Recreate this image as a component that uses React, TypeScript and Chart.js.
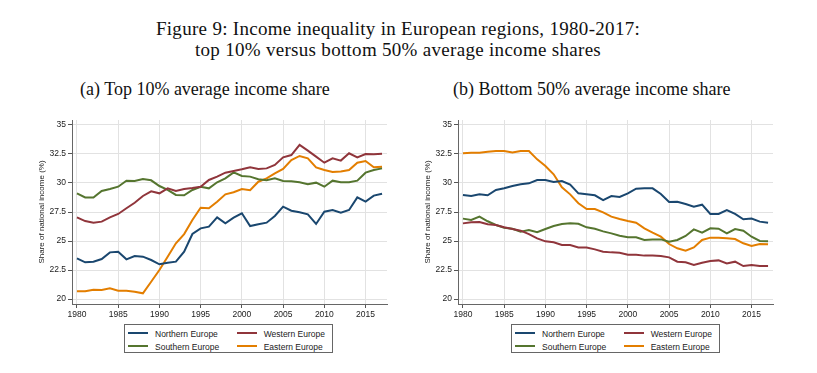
import React, { useEffect, useRef } from "react";
import { Chart, registerables } from "chart.js";

Chart.register(...registerables);

const years = [
  1980, 1981, 1982, 1983, 1984, 1985, 1986, 1987, 1988, 1989,
  1990, 1991, 1992, 1993, 1994, 1995, 1996, 1997, 1998, 1999,
  2000, 2001, 2002, 2003, 2004, 2005, 2006, 2007, 2008, 2009,
  2010, 2011, 2012, 2013, 2014, 2015, 2016, 2017,
];

const top10Northern = [
  23.51, 23.16, 23.22, 23.45, 24.02, 24.08, 23.42, 23.71, 23.65, 23.36,
  22.99, 23.13, 23.22, 24.08, 25.6, 26.09, 26.24, 27.04, 26.52, 27.01,
  27.39, 26.29, 26.44, 26.58, 27.16, 27.96, 27.61, 27.47, 27.3, 26.47,
  27.53, 27.67, 27.44, 27.67, 28.76, 28.39, 28.91, 29.08,
];
const top10Western = [
  27.04, 26.72, 26.58, 26.67, 27.04, 27.33, 27.82, 28.3, 28.88, 29.28,
  29.11, 29.54, 29.31, 29.48, 29.57, 29.68, 30.26, 30.55, 30.89, 31.03,
  31.18, 31.35, 31.21, 31.26, 31.55, 32.21, 32.41, 33.28, 32.79, 32.27,
  31.75, 32.13, 31.93, 32.56, 32.21, 32.5, 32.47, 32.53,
];
const top10Southern = [
  29.11, 28.76, 28.74, 29.31, 29.48, 29.68, 30.2, 30.17, 30.34, 30.23,
  29.74, 29.4, 28.97, 28.94, 29.4, 29.68, 29.54, 30.06, 30.4, 30.92,
  30.6, 30.55, 30.32, 30.23, 30.4, 30.17, 30.14, 30.06, 29.89, 30.03,
  29.68, 30.2, 30.06, 30.06, 30.2, 30.89, 31.12, 31.26,
];
const top10Eastern = [
  20.66, 20.66, 20.8, 20.78, 20.92, 20.72, 20.72, 20.63, 20.49, 21.49,
  22.5, 23.65, 24.8, 25.6, 26.81, 27.87, 27.82, 28.39, 29.02, 29.2,
  29.48, 29.37, 30.11, 30.4, 30.83, 31.21, 31.98, 32.33, 32.13, 31.35,
  31.12, 30.95, 31.0, 31.12, 31.75, 31.9, 31.35, 31.41,
];

const bottom50Northern = [
  28.97, 28.88, 29.02, 28.94, 29.4, 29.54, 29.74, 29.89, 29.97, 30.26,
  30.26, 30.09, 30.17, 29.86, 29.11, 29.02, 28.94, 28.53, 28.88, 28.79,
  29.11, 29.51, 29.54, 29.54, 29.05, 28.36, 28.39, 28.19, 27.96, 28.13,
  27.33, 27.33, 27.67, 27.33, 26.87, 26.93, 26.67, 26.58,
];
const bottom50Western = [
  26.52, 26.61, 26.64, 26.44, 26.38, 26.18, 26.03, 25.89, 25.6, 25.23,
  24.97, 24.89, 24.66, 24.66, 24.45, 24.43, 24.28, 24.08, 24.02, 23.99,
  23.82, 23.82, 23.74, 23.74, 23.71, 23.59, 23.22, 23.16, 22.93, 23.13,
  23.28, 23.33, 23.07, 23.22, 22.84, 22.93, 22.84, 22.84,
];
const bottom50Southern = [
  26.93, 26.81, 27.1, 26.7, 26.38, 26.15, 26.06, 25.8, 25.95, 25.75,
  26.03, 26.29, 26.47, 26.52, 26.49, 26.18, 26.06, 25.83, 25.66, 25.46,
  25.32, 25.32, 25.09, 25.14, 25.14, 24.94, 25.09, 25.43, 26.0, 25.72,
  26.09, 26.06, 25.66, 26.03, 25.89, 25.37, 25.0, 24.97,
];
const bottom50Eastern = [
  32.56, 32.61, 32.61, 32.7, 32.76, 32.76, 32.64, 32.76, 32.76, 32.04,
  31.47, 30.75, 29.63, 29.02, 28.25, 27.76, 27.76, 27.47, 27.1, 26.9,
  26.72, 26.58, 26.09, 25.72, 25.37, 24.74, 24.37, 24.17, 24.45, 25.09,
  25.29, 25.29, 25.23, 25.17, 24.8, 24.57, 24.74, 24.71,
];

const regionNames = ["Northern Europe", "Western Europe", "Southern Europe", "Eastern Europe"];
const regionColors = ["#1a476f", "#90353b", "#55752f", "#e37e00"];
const yTicks = [20, 22.5, 25, 27.5, 30, 32.5, 35];
const xTicks = [1980, 1985, 1990, 1995, 2000, 2005, 2010, 2015];

const titleLine1 = "Figure 9: Income inequality in European regions, 1980-2017:";
const titleLine2 = "top 10% versus bottom 50% average income shares";
const panelATitle = "(a) Top 10% average income share";
const panelBTitle = "(b) Bottom 50% average income share";
const yAxisTitle = "Share of national income (%)";

const SANS = "'Liberation Sans', Arial, sans-serif";
const SERIF = "'Liberation Serif', 'Times New Roman', serif";

function LineChart({ series }: { series: number[][] }) {
  const ref = useRef<HTMLCanvasElement | null>(null);
  useEffect(() => {
    if (!ref.current) return;
    const datasets = series.map((vals, i) => ({
      label: regionNames[i],
      data: years.map((yr, j) => ({ x: yr, y: vals[j] })),
      borderColor: regionColors[i],
      backgroundColor: regionColors[i],
      borderWidth: 2,
      pointRadius: 0,
      tension: 0,
      fill: false,
    }));
    const chart = new Chart(ref.current, {
      type: "line",
      data: { datasets },
      options: {
        animation: false,
        responsive: false,
        maintainAspectRatio: false,
        layout: { padding: { top: 8, right: 8, left: 0, bottom: 0 } },
        plugins: { legend: { display: false }, tooltip: { enabled: false } },
        scales: {
          x: {
            type: "linear",
            min: 1979.4,
            max: 2017.6,
            afterBuildTicks: (scale: any) => {
              scale.ticks = xTicks.map((v) => ({ value: v }));
            },
            afterFit: (scale: any) => {
              scale.height = 18;
            },
            grid: {
              color: "#e2e2e2",
              lineWidth: 1,
              drawTicks: true,
              tickLength: 4,
              tickColor: "#555",
            },
            border: { display: true, color: "#666", width: 1 },
            ticks: {
              autoSkip: false,
              maxRotation: 0,
              padding: 2,
              color: "#222",
              font: { family: SANS, size: 8.5 },
              callback: (v: any) => String(v),
            },
          },
          y: {
            type: "linear",
            min: 19.57,
            max: 35.43,
            afterBuildTicks: (scale: any) => {
              scale.ticks = yTicks.map((v) => ({ value: v }));
            },
            afterFit: (scale: any) => {
              scale.width = 42;
            },
            grid: {
              color: "#e2e2e2",
              lineWidth: 1,
              drawTicks: true,
              tickLength: 4,
              tickColor: "#555",
            },
            border: { display: true, color: "#666", width: 1 },
            title: {
              display: true,
              text: yAxisTitle,
              color: "#222",
              font: { family: SANS, size: 8 },
              padding: { top: 7, bottom: 0 },
            },
            ticks: {
              padding: 2,
              color: "#222",
              font: { family: SANS, size: 8.5 },
              callback: (v: any) => String(v),
            },
          },
        },
      },
    } as any);
    return () => chart.destroy();
  }, [series]);
  return <canvas ref={ref} width={365} height={210} style={{ width: 365, height: 210, display: "block" }} />;
}

function Legend({ left }: { left: number }) {
  const cols = [4, 112.7];
  const rows = [9.3, 21.7];
  return (
    <div
      style={{
        position: "absolute",
        left,
        top: 324,
        width: 209,
        height: 29,
        border: "1px solid #666",
        boxSizing: "border-box",
        fontFamily: SANS,
        fontSize: 8.5,
        color: "#222",
      }}
    >
      {regionNames.map((name, i) => {
        const c = cols[i % 2];
        const r = rows[Math.floor(i / 2)];
        return (
          <React.Fragment key={name}>
            <div
              style={{
                position: "absolute",
                left: c - 1,
                top: r - 2,
                width: 20,
                height: 2,
                background: regionColors[i],
              }}
            />
            <div
              style={{
                position: "absolute",
                left: c + 26,
                top: r - 6,
                height: 12,
                lineHeight: "12px",
                whiteSpace: "nowrap",
              }}
            >
              {name}
            </div>
          </React.Fragment>
        );
      })}
    </div>
  );
}

const topSeries = [top10Northern, top10Western, top10Southern, top10Eastern];
const bottomSeries = [bottom50Northern, bottom50Western, bottom50Southern, bottom50Eastern];

export default function App() {
  return (
    <div
      style={{
        position: "absolute",
        left: 0,
        top: 0,
        width: 817,
        height: 373,
        background: "#fff",
        overflow: "hidden",
      }}
    >
      <div
        style={{
          position: "absolute",
          left: 0,
          top: 18,
          width: 796,
          textAlign: "center",
          fontFamily: SERIF,
          fontSize: 19,
          letterSpacing: "0.3px",
          lineHeight: "21px",
          color: "#111",
        }}
      >
        <div>{titleLine1}</div>
        <div>{titleLine2}</div>
      </div>
      <div
        style={{
          position: "absolute",
          left: 80,
          top: 78,
          fontFamily: SERIF,
          fontSize: 18,
          lineHeight: "22px",
          color: "#111",
          whiteSpace: "nowrap",
        }}
      >
        {panelATitle}
      </div>
      <div
        style={{
          position: "absolute",
          left: 453,
          top: 78,
          fontFamily: SERIF,
          fontSize: 18,
          lineHeight: "22px",
          color: "#111",
          whiteSpace: "nowrap",
        }}
      >
        {panelBTitle}
      </div>
      <div style={{ position: "absolute", left: 30, top: 112 }}>
        <LineChart series={topSeries} />
      </div>
      <div style={{ position: "absolute", left: 416, top: 112 }}>
        <LineChart series={bottomSeries} />
      </div>
      <Legend left={124} />
      <Legend left={511} />
    </div>
  );
}
